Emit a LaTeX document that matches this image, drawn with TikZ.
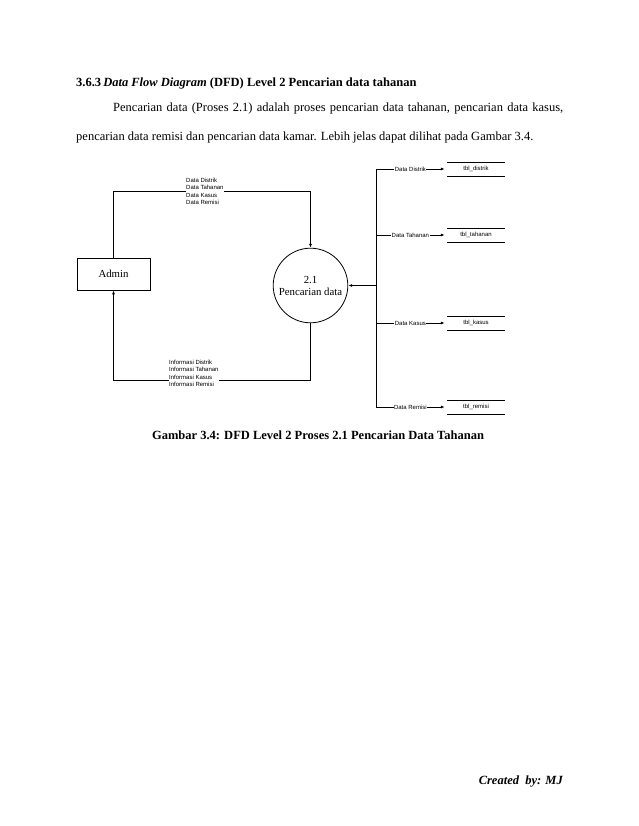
\documentclass[tikz,border=0pt]{standalone}
\usepackage{fontspec}
\setmainfont{Liberation Serif}
\newfontfamily\arialfont{Liberation Sans}
\usetikzlibrary{arrows.meta}

\begin{document}
\begin{tikzpicture}[x=1pt,y=-1pt,
    flow/.style={thick,-{Latex[length=4pt,width=3pt]}},
    small/.style={font=\arialfont\fontsize{6}{7.3}\selectfont,inner sep=0.5pt},
    store/.style={minimum width=58pt,minimum height=13.5pt,inner sep=0pt,font=\arialfont\fontsize{6}{7.3}\selectfont}]
    \useasboundingbox (0,0) rectangle (638,826);
    % text of the page
    \node[anchor=base west,inner sep=0pt,font=\fontsize{12.5}{15}\selectfont\bfseries] (judul) at (76,86.5)
        {3.6.3\,\textit{Data Flow Diagram} (DFD) Level 2 Pencarian data tahanan};
    \node[anchor=base west,inner sep=0pt,font=\fontsize{12.5}{15}\selectfont] (baris1) at (113,112)
        {\makebox[450pt][s]{Pencarian data (Proses 2.1) adalah proses pencarian data tahanan, pencarian data kasus,}};
    \node[anchor=base west,inner sep=0pt,font=\fontsize{12.5}{15}\selectfont] (baris2) at (76,141)
        {pencarian data remisi dan pencarian data kamar. Lebih jelas dapat dilihat pada Gambar 3.4.};

    % DFD
    \node[draw,thick,minimum width=73pt,minimum height=32pt,font=\fontsize{10.8}{13}\selectfont] (admin) at (113.5,274) {Admin};
    \node[draw,thick,circle,minimum size=74pt,align=center,font=\fontsize{10.8}{12}\selectfont] (proses) at (310.5,285.5) {2.1\\Pencarian data};
    \draw[flow] (admin.north) -- ++(0,-66) -| (proses.north);
    \draw[flow] (proses.south) -- ++(0,57) -| (admin.south);
    \node[small,fill=white,align=left,anchor=north west] (masuk) at (185.5,177.5) {Data Distrik\\Data Tahanan\\Data Kasus\\Data Remisi};
    \node[small,fill=white,align=left,anchor=north west] (keluar) at (168.5,359.5) {Informasi Distrik\\Informasi Tahanan\\Informasi Kasus\\Informasi Remisi};

    \coordinate (busatas) at (376,169);
    \coordinate (busbawah) at (376,407);
    \coordinate (busproses) at (376,285.5);
    \draw[thick] (busatas) -- (busbawah);
    \draw[flow] (busproses) -- (proses.east);
    \foreach \y/\nama/\isi in {169/distrik/Data Distrik,235/tahanan/Data Tahanan,323/kasus/Data Kasus,407/remisi/Data Remisi}{
        \coordinate (b\nama) at (376,\y);
        \node[store] (tbl\nama) at (476,\y) {tbl\_\nama};
        \draw[thick] (tbl\nama.north west) -- (tbl\nama.north east) (tbl\nama.south west) -- (tbl\nama.south east);
        \draw[flow] (b\nama) -- node[small,fill=white] {\isi} ([xshift=-2pt]tbl\nama.west);
    }

    \node[anchor=base,inner sep=0pt,font=\fontsize{12.5}{15}\selectfont\bfseries] (gambar) at (318,439.5)
        {Gambar 3.4: DFD Level 2 Proses 2.1 Pencarian Data Tahanan};
    \node[anchor=base east,inner sep=0pt,font=\fontsize{12.5}{15}\selectfont\bfseries\itshape] (buat) at (563,784)
        {Created\ \ by: MJ};
\end{tikzpicture}
\end{document}
